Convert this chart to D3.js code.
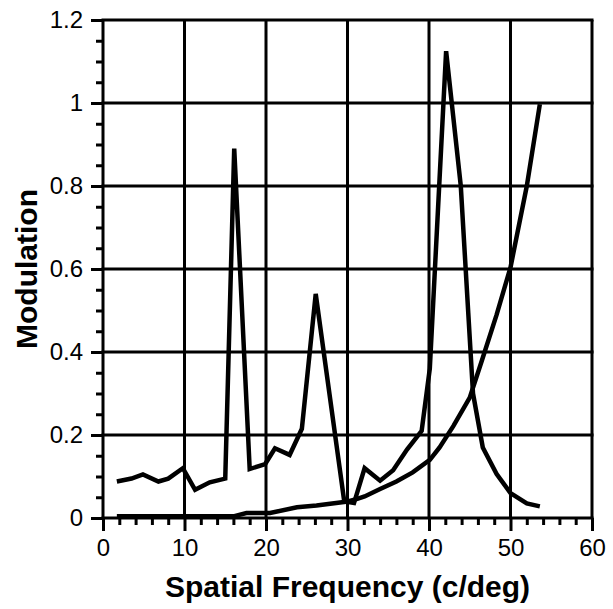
<!DOCTYPE html>
<html>
<head>
<meta charset="utf-8">
<script src="https://cdn.jsdelivr.net/npm/d3@7"></script>
<style>
  html, body { margin: 0; padding: 0; background: #fff; }
  svg { display: block; }
  text { font-family: "Liberation Sans", Arial, Helvetica, sans-serif; fill: #000; }
</style>
</head>
<body>
<svg id="chart" width="613" height="609"></svg>
<script>
// ---- data ----
const peakX = [1.7, 3.5, 4.9, 6.8, 8.0, 9.8, 11.3, 13.1, 15.0, 16.1, 18.0, 19.9, 21.1, 22.9, 24.4, 26.1, 29.6, 30.8, 32.1, 34.0, 35.6, 37.3, 39.1, 40.1, 42.1, 43.9, 45.4, 46.6, 48.3, 50.0, 52.0, 53.6];
const peakY = [0.088, 0.095, 0.105, 0.088, 0.095, 0.12, 0.068, 0.086, 0.095, 0.89, 0.118, 0.13, 0.168, 0.152, 0.215, 0.54, 0.04, 0.036, 0.12, 0.09, 0.115, 0.165, 0.21, 0.36, 1.125, 0.80, 0.30, 0.17, 0.106, 0.06, 0.035, 0.028];
const riseX = [1.7, 16.0, 17.6, 20.5, 23.8, 26.2, 29.8, 31.2, 32.1, 34.0, 36.0, 38.0, 40.1, 41.3, 43.0, 45.0, 46.5, 48.3, 50.0, 52.0, 53.6];
const riseY = [0.004, 0.004, 0.012, 0.012, 0.026, 0.03, 0.039, 0.046, 0.052, 0.07, 0.088, 0.11, 0.14, 0.17, 0.222, 0.29, 0.38, 0.49, 0.604, 0.80, 0.997];
const xTicks = [0, 10, 20, 30, 40, 50, 60];
const yTicks = [0, 0.2, 0.4, 0.6, 0.8, 1.0, 1.2];
const yTickLabels = ["0", "0.2", "0.4", "0.6", "0.8", "1", "1.2"];
const xTitle = "Spatial Frequency (c/deg)";
const yTitle = "Modulation";

// ---- layout ----
const svg = d3.select("#chart");
const L = 103, R = 592, T = 20, B = 518;
const x = d3.scaleLinear().domain([0, 60]).range([L, R]);
const y = d3.scaleLinear().domain([0, 1.2]).range([B, T]);

// grid
const grid = svg.append("g").attr("stroke", "#000").attr("stroke-width", 3);
grid.selectAll("line.v").data(xTicks).join("line")
  .attr("x1", d => x(d)).attr("x2", d => x(d)).attr("y1", T).attr("y2", B);
grid.selectAll("line.h").data(yTicks).join("line")
  .attr("y1", d => y(d)).attr("y2", d => y(d)).attr("x1", L - 1.5).attr("x2", R + 1.5);

// x axis (major + minor ticks)
const xAxis = svg.append("g").attr("transform", `translate(0,${B})`)
  .call(d3.axisBottom(x).tickValues(xTicks).tickSize(13).tickPadding(8).tickFormat(d3.format("d")));
const xMinor = svg.append("g").attr("transform", `translate(0,${B})`)
  .call(d3.axisBottom(x).tickValues(d3.range(0, 61, 2).filter(v => v % 10 !== 0)).tickSize(7).tickFormat(""));
// y axis
const yAxis = svg.append("g").attr("transform", `translate(${L},0)`)
  .call(d3.axisLeft(y).tickValues(yTicks).tickSize(12).tickPadding(8).tickFormat((d, i) => yTickLabels[i]));
const yMinor = svg.append("g").attr("transform", `translate(${L},0)`)
  .call(d3.axisLeft(y).tickValues(d3.range(0, 1.2001, 0.05).filter((v, i) => i % 4 !== 0)).tickSize(7).tickFormat(""));

[xAxis, xMinor, yAxis, yMinor].forEach(g => {
  g.select(".domain").remove();
  g.selectAll(".tick line").attr("stroke", "#000").attr("stroke-width", 3);
  g.selectAll(".tick text").attr("font-size", 24).attr("fill", "#000")
    .style("font-family", "'Liberation Sans', Arial, Helvetica, sans-serif");
});

// lines
const line = d3.line().x(d => x(d[0])).y(d => y(d[1]));
svg.append("path").datum(d3.zip(riseX, riseY))
  .attr("d", line).attr("fill", "none").attr("stroke", "#000").attr("stroke-width", 4.5);
svg.append("path").datum(d3.zip(peakX, peakY))
  .attr("d", line).attr("fill", "none").attr("stroke", "#000").attr("stroke-width", 4.5);

// titles
svg.append("text").attr("x", (L + R) / 2).attr("y", 597).attr("text-anchor", "middle")
  .attr("font-size", 30).attr("font-weight", "bold").text(xTitle);
svg.append("text").attr("transform", `translate(37,${(T + B) / 2}) rotate(-90)`).attr("text-anchor", "middle")
  .attr("font-size", 30).attr("font-weight", "bold").text(yTitle);
</script>
</body>
</html>
